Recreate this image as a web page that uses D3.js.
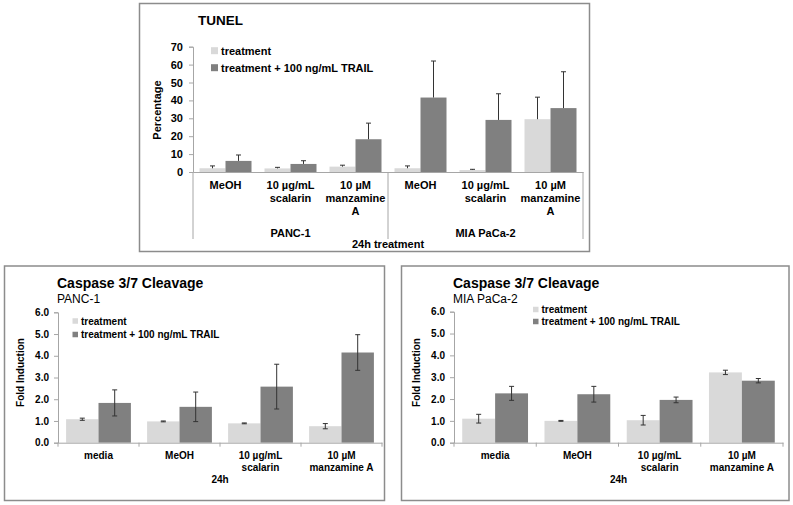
<!DOCTYPE html>
<html>
<head>
<meta charset="utf-8">
<script src="https://cdn.jsdelivr.net/npm/d3@7"></script>
<style>
  html, body { margin: 0; padding: 0; background: #fff; }
  svg { display: block; }
  text { font-family: "Liberation Sans", Arial, sans-serif; fill: #000; }
</style>
</head>
<body>
<svg id="chart" width="793" height="505"></svg>
<script>
// ---------- DATA ----------
const seriesNames = ["treatment", "treatment + 100 ng/mL TRAIL"];

// TUNEL chart
const tunelCategories = [["MeOH"], ["10 µg/mL", "scalarin"], ["10 µM", "manzamine", "A"],
                         ["MeOH"], ["10 µg/mL", "scalarin"], ["10 µM", "manzamine", "A"]];
const tunelGroups = ["PANC-1", "MIA PaCa-2"];
const tunelTreatment = [2.1, 2.0, 3.0, 2.1, 1.1, 29.5];
const tunelTreatmentErr = [1.3, 0.6, 0.8, 1.3, 0.4, 12.3];
const tunelTrail = [6.2, 4.5, 18.3, 41.6, 29.1, 35.7];
const tunelTrailErr = [3.3, 1.8, 9.0, 20.4, 14.6, 20.3];
const tunelTicks = [0, 10, 20, 30, 40, 50, 60, 70];

// Caspase charts
const caspCategories = [["media"], ["MeOH"], ["10 µg/mL", "scalarin"], ["10 µM", "manzamine A"]];
const caspTicks = [0, 1, 2, 3, 4, 5, 6];
const pancTreatment = [1.08, 0.98, 0.89, 0.76];
const pancTreatmentErr = [0.05, 0.02, 0.02, 0.12];
const pancTrail = [1.83, 1.65, 2.58, 4.15];
const pancTrailErr = [0.60, 0.68, 1.03, 0.82];
const miaTreatment = [1.10, 1.00, 1.03, 3.22];
const miaTreatmentErr = [0.20, 0.02, 0.22, 0.10];
const miaTrail = [2.26, 2.22, 1.96, 2.84];
const miaTrailErr = [0.32, 0.36, 0.13, 0.10];

// ---------- STYLE ----------
const colors = ["#d9d9d9", "#808080"];
const axisColor = "#a6a6a6";
const boxColor = "#8c8c8c";
const errColor = "#333";

const svg = d3.select("#chart");
svg.append("rect").attr("width", 793).attr("height", 505).attr("fill", "#fff");

function box(x0, y0, x1, y1) {
  svg.append("rect").attr("x", x0).attr("y", y0).attr("width", x1 - x0).attr("height", y1 - y0)
    .attr("fill", "none").attr("stroke", boxColor).attr("stroke-width", 1.5);
}

function drawChart(cfg) {
  const g = svg.append("g");
  const idx = d3.range(cfg.categories.length);
  const x = d3.scaleBand().domain(idx).range([cfg.left, cfg.right]).padding(0);
  const xs = d3.scaleBand().domain([0, 1]).range([0, x.bandwidth()]).paddingInner(0).paddingOuter(0.25);
  const y = d3.scaleLinear().domain([cfg.yMin, cfg.yMax]).range([cfg.bottom, cfg.top]);

  const series = [cfg.s1, cfg.s2];
  const errs = [cfg.e1, cfg.e2];

  series.forEach((vals, si) => {
    g.append("g").selectAll("rect").data(vals).join("rect")
      .attr("x", (d, i) => x(i) + xs(si))
      .attr("width", xs.bandwidth())
      .attr("y", d => y(d))
      .attr("height", d => y(0) - y(d))
      .attr("fill", colors[si]);
  });

  series.forEach((vals, si) => {
    const eg = g.append("g").attr("stroke", errColor).attr("stroke-width", 1);
    vals.forEach((v, i) => {
      const cx = x(i) + xs(si) + xs.bandwidth() / 2;
      const hi = v + errs[si][i];
      const lo = cfg.plusOnly ? v : v - errs[si][i];
      eg.append("line").attr("x1", cx).attr("x2", cx).attr("y1", y(hi)).attr("y2", y(lo));
      eg.append("line").attr("x1", cx - 2.5).attr("x2", cx + 2.5).attr("y1", y(hi)).attr("y2", y(hi));
      if (!cfg.plusOnly)
        eg.append("line").attr("x1", cx - 2.5).attr("x2", cx + 2.5).attr("y1", y(lo)).attr("y2", y(lo));
    });
  });

  const ya = g.append("g").attr("transform", `translate(${cfg.left},0)`)
    .call(d3.axisLeft(y).tickValues(cfg.ticks).tickFormat(cfg.tickFormat).tickSize(4).tickPadding(cfg.tickPad));
  ya.selectAll("path,line").attr("stroke", axisColor);
  ya.selectAll("text").style("font-size", cfg.tickFont + "px").style("font-weight", "bold")
    .style("font-family", '"Liberation Sans", Arial, sans-serif').attr("fill", "#000");

  const xa = g.append("g").attr("transform", `translate(0,${cfg.bottom})`)
    .call(d3.axisBottom(x).tickSize(0).tickFormat(""));
  xa.select("path").attr("stroke", axisColor);

  const lab = g.append("g");
  cfg.categories.forEach((lines, i) => {
    const t = lab.append("text").attr("text-anchor", "middle")
      .style("font-size", cfg.catFont + "px").style("font-weight", "bold");
    lines.forEach((ln, k) => {
      t.append("tspan").attr("x", x(i) + x.bandwidth() / 2).attr("y", cfg.catY + k * cfg.catLine).text(ln);
    });
  });

  g.append("text").attr("transform", `translate(${cfg.yTitleX},${cfg.yTitleY}) rotate(-90)`)
    .attr("text-anchor", "middle").style("font-size", cfg.yTitleFont + "px").style("font-weight", "bold")
    .text(cfg.yTitle);

  const lg = g.append("g");
  seriesNames.forEach((s, i) => {
    const cy = cfg.legY + i * cfg.legStep;
    lg.append("rect").attr("x", cfg.legX).attr("y", cy - cfg.legSq / 2)
      .attr("width", cfg.legSq).attr("height", cfg.legSq).attr("fill", colors[i]);
    lg.append("text").attr("x", cfg.legX + cfg.legSq + 3).attr("y", cy + cfg.legFont * 0.36)
      .style("font-size", cfg.legFont + "px").style("font-weight", "bold").text(s);
  });

  return { g, x, y };
}

// ---------- TUNEL ----------
box(139.5, 3.5, 589.5, 251.5);
const tunelChart = drawChart({
  categories: tunelCategories, s1: tunelTreatment, s2: tunelTrail,
  e1: tunelTreatmentErr, e2: tunelTrailErr, plusOnly: true,
  left: 193, right: 583, top: 46.7, bottom: 172, yMin: 0, yMax: 70,
  ticks: tunelTicks, tickFormat: d3.format("d"), tickPad: 6, tickFont: 11,
  catY: 189, catLine: 13, catFont: 11,
  yTitle: "Percentage", yTitleX: 161, yTitleY: 110, yTitleFont: 11,
  legX: 211, legY: 50.7, legStep: 17, legSq: 7, legFont: 11
});
{
  const x = tunelChart.x;
  const n = tunelCategories.length;
  const per = n / tunelGroups.length;
  const sepX = d3.range(tunelGroups.length + 1).map(k => k < tunelGroups.length ? x(k * per) : x(n - 1) + x.bandwidth());
  tunelChart.g.append("g").selectAll("line").data(sepX).join("line")
    .attr("x1", d => d).attr("x2", d => d).attr("y1", 172).attr("y2", 239)
    .attr("stroke", axisColor).attr("stroke-width", 1);
  tunelGroups.forEach((gName, k) => {
    tunelChart.g.append("text").attr("x", (sepX[k] + sepX[k + 1]) / 2).attr("y", 237)
      .attr("text-anchor", "middle").style("font-size", "11px").style("font-weight", "bold").text(gName);
  });
  tunelChart.g.append("text").attr("x", (sepX[0] + sepX[sepX.length - 1]) / 2).attr("y", 247.5)
    .attr("text-anchor", "middle").style("font-size", "11px").style("font-weight", "bold").text("24h treatment");
}
svg.append("text").attr("x", 198).attr("y", 24.5).style("font-size", "13.5px").style("font-weight", "bold").text("TUNEL");

// ---------- Caspase ----------
function caspase(opts) {
  box(opts.bx0, 266, opts.bx1, 500.5);
  const c = drawChart({
    categories: caspCategories, s1: opts.s1, s2: opts.s2, e1: opts.e1, e2: opts.e2, plusOnly: false,
    left: opts.left, right: opts.right, top: opts.top, bottom: 442.7, yMin: 0, yMax: 6,
    ticks: caspTicks, tickFormat: d3.format(".1f"), tickPad: 5, tickFont: 10,
    catY: 458.5, catLine: 12, catFont: 10,
    yTitle: "Fold Induction", yTitleX: opts.yTitleX, yTitleY: 372.5, yTitleFont: 10,
    legX: opts.legX, legY: opts.legY, legStep: opts.legStep, legSq: 5.5, legFont: 10
  });
  const x = c.x;
  const bounds = d3.range(caspCategories.length + 1).map(k => k < caspCategories.length ? x(k) : x(k - 1) + x.bandwidth());
  c.g.append("g").selectAll("line").data(bounds).join("line")
    .attr("x1", d => d).attr("x2", d => d).attr("y1", 442.7).attr("y2", 446.7)
    .attr("stroke", axisColor);
  c.g.append("text").attr("x", (bounds[0] + bounds[bounds.length - 1]) / 2).attr("y", 483)
    .attr("text-anchor", "middle").style("font-size", "10px").style("font-weight", "bold").text("24h");
  svg.append("text").attr("x", opts.titleX).attr("y", 287.5).style("font-size", "14px").style("font-weight", "bold")
    .text("Caspase 3/7 Cleavage");
  svg.append("text").attr("x", opts.titleX).attr("y", 302.5).style("font-size", "12px").text(opts.sub);
}

caspase({ bx0: 4.5, bx1: 384.5, left: 58, right: 382, top: 312.3, s1: pancTreatment, s2: pancTrail,
  e1: pancTreatmentErr, e2: pancTrailErr, yTitleX: 24, legX: 72.5, legY: 321, legStep: 13.5,
  titleX: 57, sub: "PANC-1" });
caspase({ bx0: 401.5, bx1: 789, left: 454, right: 783, top: 311.7, s1: miaTreatment, s2: miaTrail,
  e1: miaTreatmentErr, e2: miaTrailErr, yTitleX: 419.5, legX: 533, legY: 309.5, legStep: 12,
  titleX: 453, sub: "MIA PaCa-2" });
</script>
</body>
</html>
